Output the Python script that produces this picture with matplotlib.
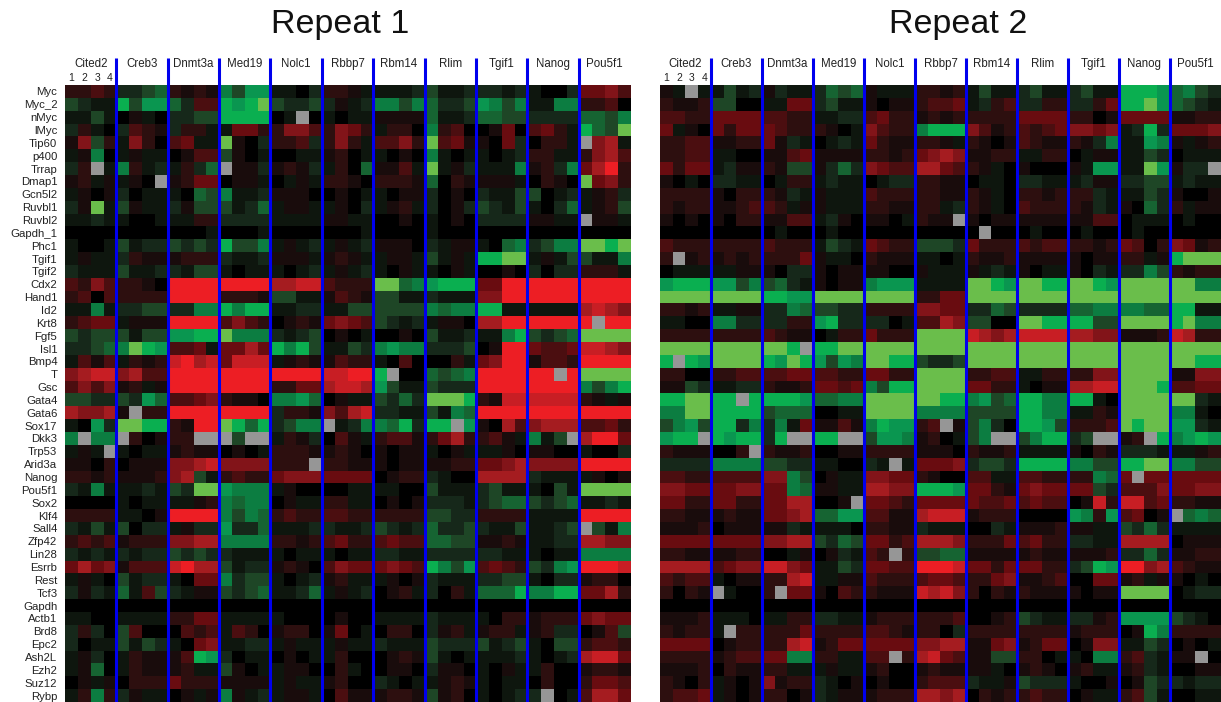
import numpy as np
import matplotlib
matplotlib.use('Agg')
import matplotlib.pyplot as plt
from matplotlib.colors import LinearSegmentedColormap

plt.rcParams['font.family'] = ['Liberation Sans', 'DejaVu Sans']

n = np.nan

genes = ['Myc', 'Myc_2', 'nMyc', 'lMyc', 'Tip60', 'p400', 'Trrap', 'Dmap1', 'Gcn5l2', 'Ruvbl1', 'Ruvbl2', 'Gapdh_1',
         'Phc1', 'Tgif1', 'Tgif2', 'Cdx2', 'Hand1', 'Id2', 'Krt8', 'Fgf5', 'Isl1', 'Bmp4', 'T', 'Gsc', 'Gata4', 'Gata6',
         'Sox17', 'Dkk3', 'Trp53', 'Arid3a', 'Nanog', 'Pou5f1', 'Sox2', 'Klf4', 'Sall4', 'Zfp42', 'Lin28', 'Esrrb',
         'Rest', 'Tcf3', 'Gapdh', 'Actb1', 'Brd8', 'Epc2', 'Ash2L', 'Ezh2', 'Suz12', 'Rybp']
knockdowns = ['Cited2', 'Creb3', 'Dnmt3a', 'Med19', 'Nolc1', 'Rbbp7', 'Rbm14', 'Rlim', 'Tgif1', 'Nanog', 'Pou5f1']
replicates = ['1', '2', '3', '4']

# red is positive, green is negative, n is a missing (grey) cell
repeat1 = [
    [2,2,3,2, -2,-2,-3,-4, 2,1,2,1, -5,-3,-6,-6, -1,-1,0,-2, 2,2,1,-1, -1,-1,-1,-2, -3,-1,-1,-2, -2,-2,-1,-2, -1,0,0,-2, 4,4,5,3],
    [-3,-2,-1,-1, -7,-3,-6,-6, -4,-2,3,3, -7,-6,-7,-8, -3,-2,-2,-3, -2,1,-1,-2, -5,-5,-3,-5, -4,-2,-2,-3, -6,-5,-3,-5, -1,-1,-5,-5, 2,2,3,0],
    [-1,-1,-3,-1, 0,1,-1,0, -2,-2,-3,-3, -7,-7,-7,-7, 0,-1,n,0, -1,0,-1,-1, 1,1,1,1, -4,-1,-1,-2, -4,-4,-3,-3, -2,-2,-2,-2, -4,-4,-3,-5],
    [-2,2,-1,0, -2,3,2,1, -2,2,2,-1, -1,4,4,2, 2,5,5,3, 2,5,4,2, -1,2,2,0, -5,2,3,0, 0,1,4,0, 3,4,2,-1, -7,-4,-3,-8],
    [1,5,-3,2, -1,5,2,0, 3,4,-1,-1, -8,1,0,-2, 2,2,3,-2, 2,5,2,-1, 3,3,5,2, -8,3,4,1, 1,0,4,-2, 0,2,2,-1, n,5,6,-1],
    [-1,1,-5,0, -1,1,-1,-1, 0,1,3,3, -3,1,0,-1, 0,0,-1,-1, 1,2,0,-1, -1,0,1,0, -5,-1,0,-1, -1,0,-1,-2, 2,2,-1,-1, 2,5,6,3],
    [-2,2,n,-1, -5,2,-1,-2, -1,2,-2,-4, n,1,1,-2, 1,2,1,-2, -1,2,0,-4, 1,1,3,-1, -8,-1,1,-2, -1,-1,-1,-5, 1,2,-2,-5, 4,6,8,2],
    [1,2,-1,1, -1,1,0,n, 1,2,4,4, 0,1,1,-1, 0,-1,1,-1, 2,2,1,0, 2,2,2,1, -4,0,2,1, 1,1,1,-1, 0,2,1,0, -8,4,5,2],
    [-1,1,0,1, -2,0,-1,-1, -1,0,-4,-3, -5,-1,-1,-2, 1,1,1,0, 0,1,0,-1, -1,0,1,1, -2,0,1,0, -2,-1,-1,-3, -3,0,-1,-2, -1,1,2,-2],
    [-2,1,-8,-1, -3,1,-1,-1, -2,1,-3,-3, -3,-1,-2,-4, -1,1,1,-1, -1,1,0,-2, -1,1,2,-1, -2,0,1,-2, -3,-2,-1,-3, -1,0,-2,-4, -1,1,2,-3],
    [-1,-1,-2,-1, -1,0,0,-1, -1,-1,2,2, -2,-2,-2,-2, -1,-1,-1,-1, 1,1,-1,-1, 0,0,1,0, -1,0,1,0, -2,-2,-2,-2, 1,1,-1,-1, n,1,1,-1],
    [0,0,0,0, 0,0,0,0, 0,0,0,-1, 0,0,0,-1, 0,0,0,0, 0,0,0,-1, 0,0,0,0, -1,0,0,0, 0,0,0,0, 0,0,0,0, 0,0,0,0],
    [-1,0,0,-1, -3,-1,-2,-2, -3,-2,-3,-2, -7,-3,-3,-5, -1,1,-1,-2, -1,1,-1,-2, 1,1,1,0, -2,-1,1,1, -1,0,-4,-5, -2,-3,-5,-5, -8,-8,-7,-8],
    [-1,1,-1,-1, -2,2,1,1, 1,2,2,2, -2,-1,-1,-2, 1,1,1,-1, 1,2,1,-1, -1,1,1,-1, -3,-1,1,-1, -7,-7,-8,-8, -1,1,-1,-3, -3,-1,-1,-5],
    [-2,-1,-1,-1, -3,-1,-1,-2, -2,-1,-3,-3, -1,0,-1,-1, -1,0,-1,-2, -1,1,-1,-2, -1,0,1,-1, -1,0,1,-1, 0,0,1,0, -2,0,-2,-2, 2,2,2,-1],
    [3,2,5,3, 2,2,1,0, 8,8,8,8, 8,8,8,8, 6,6,7,7, 3,2,2,2, -8,-8,-4,-5, -6,-7,-7,-7, 4,4,8,8, 8,8,8,8, 8,8,8,8],
    [2,3,0,3, 2,2,2,2, 8,8,8,8, 2,2,2,1, -3,-3,-1,-1, 1,3,2,1, -3,-3,-1,-1, -2,-1,-1,-1, 5,5,8,8, 8,8,8,8, 8,8,8,8],
    [-1,-1,-5,-1, -2,-2,-3,-3, -2,-2,-5,-5, -7,-5,-7,-7, -1,-1,-2,-2, -1,-1,-3,-3, -3,-3,-3,-3, -5,-4,-5,-5, -7,-7,-1,-1, -1,-1,-1,-1, 6,7,6,5],
    [2,3,4,4, -1,1,1,1, 8,8,8,8, 3,5,3,2, 0,1,2,1, 4,5,4,3, -3,-2,-1,-2, -1,1,1,0, 6,6,8,8, 8,8,8,8, 8,n,8,8],
    [-3,-2,-3,-3, -3,-1,-3,-3, -6,-6,-7,-7, -8,-5,-5,-5, -2,-1,-2,-3, 0,1,0,-1, 0,0,1,0, -3,-1,-1,-2, -1,-1,-5,-7, -3,-2,-3,-4, -8,-8,-8,-8],
    [-2,-2,-3,-4, -5,-8,-7,-6, 3,3,4,-1, 4,4,6,4, -7,-5,-7,-3, -1,-1,-3,-2, -5,-6,-5,-5, -2,-2,-2,-3, 0,1,8,8, 4,3,3,4, 7,7,6,5],
    [-1,3,1,3, -1,2,1,2, 7,8,6,7, 4,7,7,7, -1,1,2,1, 1,3,2,2, -1,0,3,0, 0,0,2,-1, 4,5,8,8, 1,3,3,2, 8,8,8,8],
    [5,6,7,7, 5,6,3,3, 8,8,8,8, 8,8,8,8, 8,8,8,8, 7,7,8,8, -7,n,0,0, -4,-3,-4,-5, 8,8,8,8, 8,8,n,8, -8,-8,-8,-8],
    [3,5,3,5, 1,2,-1,1, 8,8,8,8, 8,8,8,8, 2,2,4,4, 6,7,7,6, -6,-3,-1,-1, -3,-2,-2,-2, 8,8,8,8, 8,8,8,8, -5,-3,-5,-7],
    [-3,-3,-2,-2, -3,-2,-6,-4, 3,3,4,5, 2,1,1,0, -5,-5,-6,-4, 0,1,-1,-1, -3,-2,-4,-2, -8,-8,-8,-7, 2,1,7,7, 7,7,7,7, 2,1,-1,1],
    [6,5,5,6, 1,n,2,2, 8,8,8,8, 8,8,8,8, -2,2,2,1, 5,3,6,7, -2,-2,-1,-1, -3,-1,-5,-4, 8,8,8,8, 8,8,8,8, 8,8,8,8],
    [-1,0,-6,-2, -8,-8,-7,-7, 2,1,8,8, -8,-7,-4,-7, -2,-3,-5,-5, n,-1,-2,-5, -5,-4,-7,-2, -7,-7,n,-6, 1,0,6,3, 5,6,6,6, 3,3,4,2],
    [-5,n,-5,-5, n,2,0,1, 2,2,n,n, n,-3,n,n, -1,2,1,-2, 0,3,1,-1, 2,3,3,1, 2,4,6,2, 2,3,1,-1, -5,-1,-3,n, 6,8,8,4],
    [-1,1,-1,n, -1,0,-1,-1, 1,2,1,1, 0,1,0,-1, 2,2,2,1, 1,2,1,0, 1,0,1,1, -1,0,1,-1, -1,-1,1,0, 1,1,0,0, -1,0,0,-2],
    [1,1,0,2, 0,1,1,1, 5,5,6,7, 5,5,5,5, 2,2,2,n, 2,2,1,1, 1,0,1,1, 1,1,2,2, 4,4,5,6, 5,5,5,5, 8,8,8,8],
    [2,2,1,2, 1,1,1,2, 5,6,-3,-1, 2,3,2,2, 4,5,5,5, 4,4,4,4, 0,1,2,2, -2,-1,0,0, 6,6,6,6, -2,-1,-1,-1, -1,1,0,1],
    [-2,-1,-5,-1, -1,-1,-2,-1, -3,-2,-8,-8, -6,-5,-5,-5, -1,1,0,0, 0,0,-1,-1, -1,-1,0,0, -3,-1,-1,-1, -2,-3,-1,-1, -1,0,-3,-1, -8,-8,-8,-8],
    [0,0,0,0, -1,0,-1,-1, -1,-1,1,2, -5,-4,-5,-5, 0,1,-1,-1, 2,2,-1,-1, 0,1,0,1, -2,-2,-2,-1, -2,-3,-4,-4, -3,-2,-3,-4, -1,-1,-2,-1],
    [2,2,2,2, -1,-1,0,1, 8,8,8,8, -5,-3,-5,-4, 2,3,2,2, 3,3,2,2, 2,2,2,2, -3,-3,-2,-2, 2,2,2,2, -1,-1,-1,-1, 8,8,8,8],
    [-2,-1,-3,-1, -3,0,-2,-2, -1,1,-2,-2, -6,-2,-2,-4, -1,-1,-1,-2, -2,-1,-1,-2, -3,-2,-1,-2, -4,-2,-2,-3, -2,-1,-1,-3, -1,-1,-2,-3, n,-3,-1,-5],
    [2,3,2,3, 1,2,2,2, 5,5,6,6, -5,-5,-5,-5, 2,2,1,2, 3,4,2,2, 3,4,3,3, -4,-4,-3,-3, 1,1,2,1, -1,-1,-2,-2, 6,6,5,5],
    [-2,-1,-2,-1, -2,-1,-2,-2, -3,-2,-3,-2, -2,-1,-1,-1, -1,0,-1,-1, -1,0,-1,-1, -2,-2,-1,-1, -2,-2,-2,-2, -2,-2,-1,-1, -1,0,-1,-1, -5,-5,-5,-5],
    [4,6,4,5, 1,3,3,3, 7,8,6,6, -3,-1,-2,-2, 1,2,1,0, 3,5,4,4, 4,5,4,3, -7,-5,-3,-6, 3,4,3,2, -3,-2,-5,-6, 8,8,8,7],
    [-1,1,-1,0, -3,-1,-2,-2, -1,0,4,4, -5,-2,-3,-3, -1,0,-1,-2, 1,2,-1,-1, -1,1,0,1, -2,-1,-1,-1, -2,-2,-3,-3, -1,0,-2,-2, 1,2,2,0],
    [-2,1,-2,-1, -4,-1,3,-3, -2,-1,1,1, -3,-2,-3,-4, -1,-1,-2,-4, -1,1,-1,-2, 0,1,2,-1, -2,0,2,-1, -4,-4,-4,-7, -5,-5,-7,-7, 4,4,6,2],
    [0,0,0,0, 0,0,0,0, 0,0,0,0, 0,0,0,0, 0,0,0,0, 0,0,0,0, 0,0,0,0, 0,0,0,0, 0,0,0,0, 0,0,0,0, 0,0,0,0],
    [-1,-1,0,0, -1,-1,-1,-1, 2,2,4,4, -1,-1,-1,-1, -1,0,0,0, 0,1,0,0, -1,-1,-1,-1, -2,-1,-1,-1, -1,0,2,2, 1,2,2,2, 4,5,4,4],
    [-2,2,-2,0, -3,3,0,0, 0,3,2,3, -1,3,2,0, 1,2,2,0, 1,4,0,-1, 0,2,2,0, -2,1,2,-1, 1,2,2,-1, 1,2,-2,-2, 0,1,3,-3],
    [-2,0,-1,-1, -3,-1,-3,-2, -1,0,4,5, -1,-1,-2,-2, -1,1,-1,-1, -1,1,-1,-1, -2,-1,-1,-1, -3,-2,-2,-2, -3,-1,-2,-3, -1,0,-3,-3, 2,3,3,2],
    [-1,1,-2,0, -1,2,1,1, 1,3,-7,-6, -2,0,-1,-1, 0,1,0,-1, -1,2,0,0, 0,1,2,1, -3,-1,0,-1, -1,-1,-1,-2, -1,0,-1,-2, 6,7,7,4],
    [-1,1,-4,0, -1,2,1,1, 1,2,-1,-1, -3,1,0,-1, -1,1,1,0, 0,2,-1,0, 0,1,1,0, -2,1,1,0, -1,0,1,-1, -1,2,0,0, 1,2,2,1],
    [0,1,-1,1, 0,2,2,2, 4,2,2,2, 1,1,1,1, -1,1,-1,-1, 1,2,0,0, -2,-1,0,-1, -1,1,2,1, -1,0,-1,-1, 0,2,0,0, 2,4,4,3],
    [-1,2,-5,2, -2,1,-1,-1, 0,1,-1,1, -5,1,-1,-2, -1,1,1,-1, 0,3,1,1, 1,2,2,1, -3,1,2,0, -1,0,-1,-2, -2,n,0,-1, 3,6,6,4],
]

repeat2 = [
    [1,-1,n,-1, -1,-3,-1,-2, 1,-2,-1,-1, -2,-4,-3,-4, 1,-1,-1,-1, 2,2,1,2, -1,-3,-1,-1, -2,-3,-1,-1, -2,-3,-1,-1, -7,-7,-7,-6, -4,-5,-3,-2],
    [2,1,1,2, -3,-3,0,0, -1,-1,4,4, -2,-3,-1,-1, 1,0,1,1, 2,3,3,4, -1,-2,2,3, -2,-2,2,2, -2,-2,2,4, -7,-7,-8,-6, -4,-3,-2,-1],
    [3,3,2,2, 4,4,4,4, 3,3,2,2, -1,-1,-2,-2, 3,4,2,2, 1,2,1,2, 2,2,2,2, 4,4,4,4, 2,2,0,1, 4,4,4,4, 1,1,2,2],
    [4,-1,1,0, 4,2,4,4, 4,3,2,2, 2,1,0,-1, 5,3,2,2, -5,-7,-7,-7, 5,3,1,2, 3,2,3,4, 5,5,4,5, -1,-2,-7,-2, 4,4,4,5],
    [2,2,3,3, 1,1,2,2, 4,1,-2,-1, 0,-1,-2,-1, 4,2,1,1, 2,2,1,-1, 2,1,0,1, 3,2,1,1, 2,1,-2,-5, -1,-1,-6,-5, 1,-1,1,2],
    [2,2,3,3, -1,-1,0,0, 1,1,3,4, 1,1,1,1, 2,2,1,2, 4,5,6,5, 1,1,2,2, -1,-1,2,2, 0,-1,1,1, -1,-1,-3,-2, 0,-1,-1,-1],
    [4,2,4,4, -1,-2,1,1, 2,1,-3,-3, 1,-2,-4,-2, 5,4,3,3, 6,6,4,3, 2,1,-1,0, 1,0,0,0, 1,-1,-6,-6, -1,-1,-8,-6, 1,-2,-2,n],
    [1,0,-1,0, -2,-2,-1,-1, 0,-1,2,2, -1,-2,-1,-1, 0,-1,-2,-2, 2,2,1,1, 0,-1,-1,0, -2,-2,-1,-1, -1,-2,1,1, -2,-2,-3,-3, -1,-2,-1,-1],
    [2,2,2,2, 1,0,2,2, 2,1,-2,-1, 1,-1,-1,-1, 3,2,2,2, 2,2,1,1, 2,1,-1,0, 2,2,1,2, 2,2,-2,-1, -1,-1,-3,-2, 1,0,0,1],
    [2,1,2,2, 1,1,2,3, 3,2,-1,1, 1,-1,-1,-1, 2,2,1,1, 2,2,-1,-2, 2,1,-1,0, 3,2,2,2, 2,1,-2,-1, 1,0,-4,-2, 2,-1,1,1],
    [1,0,1,0, 1,0,2,2, 1,1,3,3, -1,-2,1,0, 1,1,0,-1, 2,1,1,n, 1,0,1,1, 1,1,1,1, 1,1,3,3, 0,-1,-1,-1, 0,-1,0,0],
    [0,0,0,0, 0,0,0,0, 0,-1,0,0, 0,-1,0,0, 0,0,0,0, 0,0,0,0, 0,n,0,0, 0,-1,0,0, 0,-1,0,0, 0,-1,0,0, 0,0,0,0],
    [3,2,2,2, 2,2,2,2, 3,2,2,2, -1,-3,-2,-1, 4,3,2,2, -3,-3,-3,-2, 4,2,2,2, 3,2,3,3, 2,2,1,2, 4,3,0,2, 5,4,1,2],
    [2,n,1,2, 1,2,1,2, 2,2,2,4, 1,-1,-1,0, 2,1,1,1, -1,-1,0,-1, 2,1,1,2, 1,1,1,1, 1,0,1,1, 2,2,-1,1, -7,-8,-8,-8],
    [0,-1,-1,-1, -1,-1,1,1, 1,0,-2,-2, 1,0,1,1, 1,1,0,0, 1,-1,-1,-1, 1,-1,-2,-1, 1,0,-1,-1, 1,0,-2,-1, -2,-2,-5,-3, 2,1,2,2],
    [-6,-7,-7,-7, -6,-6,-3,-5, -3,-4,-2,-1, 1,0,1,1, -5,-6,-6,-6, -1,-1,-1,-1, -8,-8,-7,-6, -8,-8,-7,-7, -8,-8,-7,-6, -8,-8,-8,-8, -8,-8,-5,-5],
    [-8,-8,-8,-8, -8,-8,-8,-8, -7,-7,-6,-6, -8,-8,-8,-8, -8,-8,-8,-8, 2,2,4,4, -8,-8,-8,-8, -8,-8,-8,-8, -8,-8,-8,-8, -8,-8,-8,-8, -8,-8,-8,-8],
    [2,2,1,2, -1,-1,1,1, -2,-2,-5,-4, -3,-3,-2,-2, 2,2,2,2, 5,5,4,4, -2,-2,-4,-3, -2,-2,-2,-2, -4,-4,-5,-5, -5,-5,-4,-4, -7,-7,-1,-1],
    [-1,-1,0,0, -5,-5,-2,-2, -2,-2,2,2, -6,-7,-2,-2, -2,-2,0,-1, 3,3,6,5, -3,-3,0,0, -8,-8,-7,-7, -7,-7,-3,-3, -8,-8,-8,-8, -7,-8,-5,-5],
    [2,2,2,2, 2,2,2,2, 3,2,1,1, 0,-1,2,2, 4,2,2,2, -8,-8,-8,-8, 7,6,5,6, 7,7,7,7, 6,6,5,5, 1,1,1,2, 7,6,2,2],
    [-8,-8,-8,-8, -8,-8,-8,-8, -8,-8,-7,n, -7,-7,-8,-8, -8,-8,-8,-8, -8,-8,-8,-8, -8,-8,-8,-8, -8,-8,-8,-8, -8,-8,-8,-8, -8,-8,-8,-8, -8,-8,-8,-8],
    [-7,n,-7,-6, -8,-8,-8,-8, -7,-6,-8,-7, -6,-3,-6,-5, -8,-8,-7,-7, -3,-2,-2,-3, -8,-8,-8,-8, -8,-8,-8,-8, -8,-8,-8,-8, -8,-8,-8,-8, -8,-8,-7,-7],
    [2,2,0,0, 2,2,3,3, 3,3,4,4, 3,3,2,2, 4,4,2,2, -8,-8,-8,-8, 2,2,3,3, -1,-1,2,2, 2,2,5,5, -8,-8,-8,-8, 1,1,5,5],
    [1,1,-3,-2, -1,-1,-2,-2, 2,1,1,2, 4,4,3,4, -5,-3,-7,-7, -8,-8,-8,-8, 4,4,2,2, -1,0,1,1, 6,6,7,7, -8,-8,-8,-7, 3,3,4,4],
    [-7,-7,-8,-8, -7,-7,n,-7, -7,-7,-7,-6, -4,-4,-5,-5, -8,-8,-8,-8, -8,-8,-7,-7, -5,-6,-3,-4, -7,-7,-5,-5, -7,-7,-1,0, -8,-8,-8,-8, -8,-8,-2,-1],
    [-5,-5,-8,-8, -7,-7,-7,-7, -3,-4,-4,-4, 0,0,-1,-1, -8,-8,-8,-8, -5,-5,-5,-5, -3,-3,-3,-3, -7,-7,-5,-5, -1,-1,2,1, -8,-8,-8,-8, -5,-5,-1,0],
    [-3,-5,-6,-3, -7,-7,-2,-5, -2,-5,-1,4, 1,1,3,1, -5,-7,-6,-6, 2,3,n,1, -3,-5,-2,0, -7,-7,-6,-3, 2,2,2,3, -8,-7,-8,-8, -6,-6,-2,-1],
    [-6,-7,-7,n, -7,-6,-7,-7, -2,-7,n,n, -7,-7,n,n, -3,-6,-6,-5, 1,2,0,-1, -3,-5,n,n, -3,-5,-7,-7, -2,-3,n,n, 1,2,n,-7, -5,-6,-7,-6],
    [2,1,1,1, 0,0,2,n, 2,1,1,2, 0,0,1,1, 2,2,2,2, 1,1,1,0, 2,1,1,2, -1,-1,-1,-1, 1,0,2,1, -2,-2,-2,-1, -1,-1,1,2],
    [-2,-2,-2,-2, -5,-5,-5,-5, -3,-3,-2,-2, -1,-1,0,0, -2,-1,n,-1, 4,4,4,5, -2,-3,-3,-2, -7,-7,-7,-7, -5,-5,-3,-3, -7,-7,-8,-8, -5,-5,-3,-3],
    [3,3,2,2, 3,3,3,3, 5,5,-5,-3, 0,1,-1,-1, 5,5,4,4, 2,1,0,0, 3,3,-1,-1, 3,3,2,2, 2,2,-5,-4, 4,n,4,4, 4,4,4,4],
    [5,5,4,4, 4,4,5,5, 4,4,-5,-4, 1,1,-1,-1, 6,6,5,5, -7,-7,-7,-6, 4,4,2,1, 4,5,4,4, 4,4,-3,-2, 3,3,3,5, 4,4,5,5],
    [4,4,2,2, 4,4,2,2, 4,4,6,6, 0,0,1,n, 4,4,3,2, 4,4,4,4, 4,3,3,4, 3,4,3,3, 0,1,7,2, 7,7,3,4, 2,2,1,1],
    [2,2,1,1, 1,2,1,1, 4,4,5,6, -4,-4,-6,-6, 3,3,1,1, 6,7,7,7, 1,2,2,2, 0,0,0,0, -6,-5,2,-6, 3,4,0,1, n,-4,-5,-4],
    [1,1,1,2, 0,1,1,1, 1,1,-2,-1, -1,-1,-1,0, 2,2,1,1, -2,-1,-1,-1, 0,0,-2,-1, 1,1,1,2, 1,1,-1,-1, -3,-2,-4,-2, -1,-1,-1,-1],
    [4,4,4,4, 4,4,4,4, 5,5,6,6, -3,-2,-4,-3, 4,4,2,3, 6,6,6,5, 2,2,2,4, 3,4,2,2, -2,-2,-1,-1, 6,6,6,6, 0,1,1,1],
    [2,2,1,1, 1,1,2,2, 0,0,-1,1, 0,1,-2,-1, 3,2,n,2, -3,-3,-4,-4, 1,1,1,1, 1,2,1,1, 1,1,1,2, -2,-2,-4,-2, 1,1,2,2],
    [6,6,6,6, 3,4,5,5, 7,7,5,4, -1,-1,-3,-2, 4,4,3,3, 8,8,8,7, 4,4,2,4, 4,4,2,2, -2,-3,-7,-6, 8,8,5,6, 3,2,1,1],
    [3,2,3,3, -1,0,1,1, 2,2,6,7, -1,-1,1,1, 3,2,2,2, 3,4,4,3, 2,2,4,5, 1,1,2,3, 0,0,4,4, 1,2,-1,1, 1,0,-1,0],
    [2,0,2,1, n,-1,0,0, 2,n,4,4, 1,0,3,2, 2,1,1,1, 7,6,7,5, 2,0,2,1, 2,1,1,1, 1,0,1,1, -8,-8,-8,-8, 0,-1,-2,-2],
    [0,0,0,0, 0,0,0,0, 0,0,0,0, 0,0,0,0, 0,0,0,0, 0,0,0,0, 0,0,0,0, 0,0,0,0, 0,0,0,0, 0,0,0,0, 0,0,0,0],
    [1,1,1,2, -1,-1,-1,0, -1,-1,2,2, -2,-2,-1,-1, 1,2,2,2, 2,2,2,3, 0,0,1,2, -3,-2,-1,-1, -2,-2,1,2, -6,-6,-6,-6, -3,-2,-1,0],
    [2,1,2,2, -1,n,2,2, 2,2,2,4, 2,2,2,2, 3,3,2,1, 2,2,0,-2, 2,2,2,2, 2,2,2,2, 1,2,2,2, 0,1,-7,-5, 2,2,2,2],
    [4,4,4,4, 0,1,2,2, 2,2,6,7, 1,2,4,4, 4,4,4,4, 5,5,6,6, 1,1,4,5, 1,2,4,4, 0,1,5,5, -1,-1,-3,-2, 0,1,0,-1],
    [2,2,2,2, 1,2,3,3, 4,4,-5,-5, 2,2,-1,-1, 3,3,n,2, 6,7,4,3, 1,1,-3,-3, 2,2,0,-1, -1,0,-5,-5, 2,3,-2,-1, 1,1,n,0],
    [1,1,1,2, 0,2,1,1, 2,2,-1,-1, -1,1,-1,-1, 1,2,0,0, 1,2,1,1, 1,1,-1,0, 1,2,1,0, 1,2,-1,-1, 1,2,-2,-1, 0,0,1,1],
    [2,1,0,2, -1,1,0,1, 5,1,2,2, -2,-1,0,1, 0,1,0,0, 2,3,3,3, -2,-1,-1,1, -3,-2,-2,-2, -1,0,0,1, 0,1,-3,-2, -2,-1,-2,-2],
    [2,3,3,4, -1,1,0,1, 2,2,0,1, -2,-1,1,1, 1,2,2,2, 6,6,5,6, 0,2,1,2, 2,3,2,2, 0,1,-1,-1, 2,3,-3,-1, 0,0,-1,-1],
]

# green end through black to red end, eight steps each way
cmap = LinearSegmentedColormap.from_list('redgreen', [
    '#6abe4b', '#0aaf50', '#0a9650', '#0c7d41', '#166432', '#1e4626', '#16281a', '#0e160e',
    '#000000',
    '#190c0c', '#2d0f0f', '#4b0e10', '#690c10', '#821419', '#a51c20', '#c81e24', '#ed1e24',
], N=17)
cmap.set_bad('#969696')

fig = plt.figure(figsize=(12.21, 7.02), dpi=100)
W, H = 1221.0, 702.0


def draw_panel(box, values, title, title_x, show_genes):
    ax = fig.add_axes([box[0] / W, 0, box[1] / W, 617 / H])
    ax.imshow(np.array(values, dtype=float), cmap=cmap, vmin=-8, vmax=8, aspect='auto', interpolation='nearest')
    for s in ax.spines.values():
        s.set_visible(False)
    ax.set_xticks([])
    ax.tick_params(length=0)
    if show_genes:
        ax.set_yticks(np.arange(len(genes)))
        ax.set_yticklabels(genes, fontsize=8.2, color='#222222')
        ax.tick_params(axis='y', pad=5.5)
    else:
        ax.set_yticks([])
    for i, name in enumerate(knockdowns):
        ax.text(4 * i + 1.5, -2.13, name, ha='center', va='center', fontsize=8.3, color='#222222')
        if i > 0:
            ax.plot([4 * i - 0.5, 4 * i - 0.5], [-2.6, 47.5], color='#0000ee', lw=2.2, clip_on=False,
                    solid_capstyle='butt')
    for j, r in enumerate(replicates):
        ax.text(j, -1.05, r, ha='center', va='center', fontsize=7.5, color='#222222')
    # the divider lines reach above the grid, so pin the limits back to the cells
    ax.set_xlim(-0.5, 43.5)
    ax.set_ylim(47.5, -0.5)
    fig.text(title_x / W, 1 - 25 / H, title, ha='center', va='center', fontsize=24.5, color='#111111')
    return ax


draw_panel((65, 565), repeat1, 'Repeat 1', 340, True)
draw_panel((660, 561), repeat2, 'Repeat 2', 958, False)

plt.savefig('out.png', dpi=100)
